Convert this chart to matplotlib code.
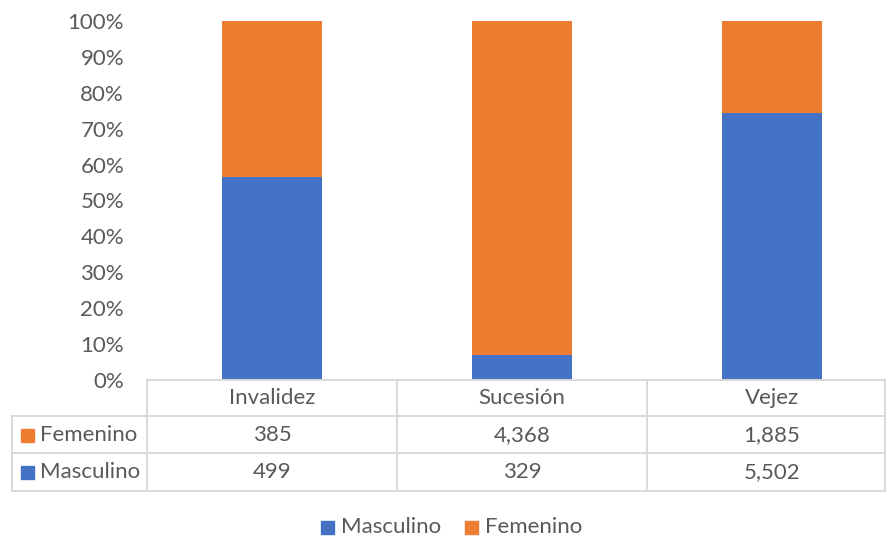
import matplotlib
matplotlib.use('Agg')
import matplotlib.pyplot as plt
from matplotlib.lines import Line2D
from matplotlib.patches import Rectangle

# datos del gráfico
categorias = ['Invalidez', 'Sucesión', 'Vejez']
masculino = [499, 329, 5502]
femenino = [385, 4368, 1885]
series = ['Masculino', 'Femenino']
colores = {'Masculino': '#4472C4', 'Femenino': '#ED7D31'}

plt.rcParams['font.family'] = ['Lato', 'DejaVu Sans']
gris = '#595959'
linea = '#D9D9D9'
fs = 16

W, H = 886, 538
fig = plt.figure(figsize=(W / 100, H / 100), dpi=100)


def fx(px):
    return px / W


def fy(py):
    return 1 - py / H


# área del gráfico (la última columna queda recortada por el borde)
ax = fig.add_axes([fx(147), fy(380), 750 / W, (380 - 21) / H])
totales = [m + f for m, f in zip(masculino, femenino)]
pm = [m / t for m, t in zip(masculino, totales)]
pf = [f / t for f, t in zip(femenino, totales)]
x = list(range(len(categorias)))
ax.bar(x, pm, width=0.4, color=colores['Masculino'])
ax.bar(x, pf, width=0.4, bottom=pm, color=colores['Femenino'])
ax.set_xlim(-0.5, 2.5)
ax.set_ylim(0, 1)
ax.set_yticks([i / 10 for i in range(11)])
ax.set_yticklabels([f'{i * 10}%' for i in range(11)], fontsize=fs, color=gris)
ax.tick_params(axis='y', length=0, pad=16.5)
ax.set_xticks([])
for s in ax.spines.values():
    s.set_visible(False)


def hline(y, x0, x1):
    fig.add_artist(Line2D([fx(x0), fx(x1)], [fy(y), fy(y)], color=linea, lw=1.4))


def vline(x0, y0, y1):
    fig.add_artist(Line2D([fx(x0), fx(x0)], [fy(y0), fy(y1)], color=linea, lw=1.4))


# tabla de datos
hline(380, 147, 886)
for y in (416, 453, 491):
    hline(y, 12, 886)
for xv in (147, 397, 647, 885):
    vline(xv, 380, 491)
vline(12, 416, 491)

filas = [('Femenino', femenino, 435), ('Masculino', masculino, 472)]
for i, c in enumerate(categorias):
    cx = 272 + 250 * i
    fig.text(fx(cx), fy(398), c, ha='center', va='center', fontsize=fs, color=gris)
    for nombre, vals, yy in filas:
        fig.text(fx(cx), fy(yy), f'{vals[i]:,}', ha='center', va='center',
                 fontsize=fs, color=gris)
for nombre, vals, yy in filas:
    fig.add_artist(Rectangle((fx(21), fy(yy + 7)), 13 / W, 13 / H,
                             transform=fig.transFigure, color=colores[nombre]))
    fig.text(fx(40), fy(yy), nombre, ha='left', va='center', fontsize=fs, color=gris)

# leyenda inferior
for nombre, x0 in zip(series, (321, 465)):
    fig.add_artist(Rectangle((fx(x0), fy(534)), 13 / W, 13 / H,
                             transform=fig.transFigure, color=colores[nombre]))
    fig.text(fx(x0 + 20), fy(527), nombre, ha='left', va='center', fontsize=fs, color=gris)

fig.savefig('out.png', dpi=100)
